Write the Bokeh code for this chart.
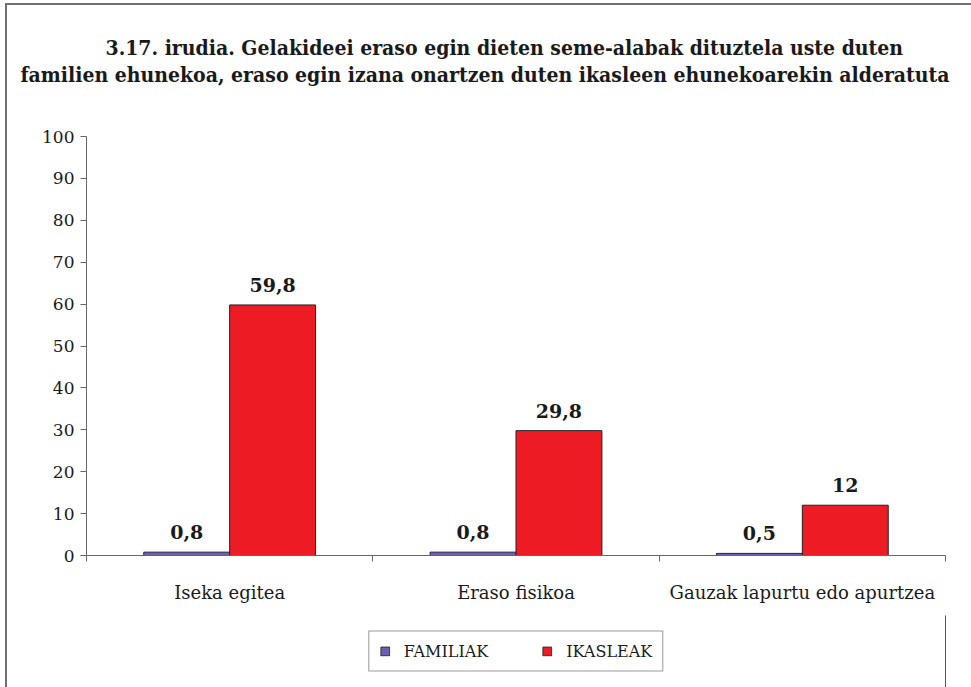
from bokeh.plotting import figure
from bokeh.layouts import column
from bokeh.models import (ColumnDataSource, LabelSet, Legend, LegendItem,
                          FixedTicker, Range1d, Title)
from bokeh.core.properties import value
from bokeh.embed import file_html
from bokeh.resources import INLINE

# --- data -----------------------------------------------------------------
categories = ["Iseka egitea", "Eraso fisikoa", "Gauzak lapurtu edo apurtzea"]
familiak = [0.8, 0.8, 0.5]
ikasleak = [59.8, 29.8, 12]
series_names = ["FAMILIAK", "IKASLEAK"]
y_ticks = [0, 10, 20, 30, 40, 50, 60, 70, 80, 90, 100]
title_lines = [
    "3.17. irudia. Gelakideei eraso egin dieten seme-alabak dituztela uste duten",
    "familien ehunekoa, eraso egin izana onartzen duten ikasleen ehunekoarekin alderatuta",
]

# --- styling --------------------------------------------------------------
FAM_COLOR = "#6F5FAF"
IKA_COLOR = "#ED1C24"
FAM_LINE = "#22224a"
IKA_LINE = "#222222"
AXIS_COLOR = "#666666"
TEXT_COLOR = "#1a1a1a"
SERIF = "DejaVu Serif"
BAR_W = 0.3


def fmt(v):
    return f"{v:g}".replace(".", ",")


n = len(categories)
centers = [i + 0.5 for i in range(n)]

src_fam = ColumnDataSource(dict(
    x=[c - BAR_W / 2 for c in centers], top=familiak,
    label=[fmt(v) for v in familiak]))
src_ika = ColumnDataSource(dict(
    x=[c + BAR_W / 2 for c in centers], top=ikasleak,
    label=[fmt(v) for v in ikasleak]))

# --- main bar chart -------------------------------------------------------
p = figure(width=964, height=610,
           x_range=Range1d(0, n), y_range=Range1d(0, 100),
           output_backend="svg", toolbar_location=None,
           min_border_left=79, min_border_right=26,
           min_border_top=131, min_border_bottom=60)
p.outline_line_color = None
p.xgrid.visible = False
p.ygrid.visible = False
p.background_fill_color = "white"
p.border_fill_color = "white"

p.vbar(x="x", top="top", width=BAR_W, bottom=0, source=src_fam,
       fill_color=FAM_COLOR, line_color=FAM_LINE, line_width=1)
p.vbar(x="x", top="top", width=BAR_W, bottom=0, source=src_ika,
       fill_color=IKA_COLOR, line_color=IKA_LINE, line_width=1)

for src in (src_fam, src_ika):
    p.add_layout(LabelSet(x="x", y="top", text="label", source=src,
                          text_align="center", text_baseline="bottom",
                          y_offset=13, text_font=value(SERIF),
                          text_font_style="bold",
                          text_font_size="19px", text_color=TEXT_COLOR))

# x axis: category names centred under each group, ticks on group boundaries
xa = p.xaxis[0]
xa.ticker = FixedTicker(ticks=centers, minor_ticks=list(range(n + 1)))
xa.major_label_overrides = {c: name for c, name in zip(centers, categories)}
xa.major_tick_out = 0
xa.major_tick_in = 0
xa.minor_tick_out = 6
xa.minor_tick_in = 0
xa.minor_tick_line_color = AXIS_COLOR
xa.axis_line_color = AXIS_COLOR
xa.major_label_standoff = 20
xa.major_label_text_font = SERIF
xa.major_label_text_font_size = "18px"
xa.major_label_text_color = TEXT_COLOR

ya = p.yaxis[0]
ya.ticker = FixedTicker(ticks=y_ticks)
ya.major_tick_out = 6
ya.major_tick_in = 0
ya.minor_tick_line_color = None
ya.major_tick_line_color = AXIS_COLOR
ya.axis_line_color = AXIS_COLOR
ya.major_label_standoff = 6
ya.major_label_text_font = SERIF
ya.major_label_text_font_size = "17px"
ya.major_label_text_color = TEXT_COLOR

# two-line title above the plot (added bottom line first, spacer nearest the plot)
p.add_layout(Title(text=" ", text_font_size="43px", standoff=0), "above")
for text, off in ((title_lines[1], -66), (title_lines[0], 19)):
    p.add_layout(Title(text=text, align="left", offset=off,
                       text_font="DejaVu Serif Condensed", text_font_style="bold",
                       text_font_size="21px", text_color=TEXT_COLOR,
                       standoff=0), "above")

# --- legend strip below the chart ----------------------------------------
leg = figure(width=964, height=72, x_range=Range1d(0, 1), y_range=Range1d(0, 1),
             output_backend="svg", toolbar_location=None,
             x_axis_location=None, y_axis_location=None,
             min_border_left=33, min_border_right=0,
             min_border_top=0, min_border_bottom=0)
leg.outline_line_color = None
leg.xgrid.visible = False
leg.ygrid.visible = False
leg.border_fill_color = "white"
# swatch renderers sit outside the visible range; only their legend glyphs show
g_fam = leg.vbar(x=[5], top=[1], width=0.1, fill_color=FAM_COLOR,
                 line_color="#333333")
g_ika = leg.vbar(x=[5], top=[1], width=0.1, fill_color=IKA_COLOR,
                 line_color="#333333")
legend = Legend(items=[LegendItem(label=series_names[0], renderers=[g_fam]),
                       LegendItem(label=series_names[1], renderers=[g_ika])],
                orientation="horizontal", location="center",
                glyph_width=11, glyph_height=11, label_standoff=14, spacing=53,
                padding=10, margin=0, border_line_color="#333333",
                border_line_width=1, background_fill_color="white",
                label_text_font=SERIF, label_text_font_size="16px",
                label_text_color=TEXT_COLOR)
leg.add_layout(legend, "center")

# chart box: top and left edges
layout = column(p, leg, spacing=0,
                styles={"border-left": "2px solid #707070",
                        "border-top": "2px solid #707070",
                        "margin-left": "5px", "margin-top": "3px"})

open("out.html", "w").write(file_html(layout, INLINE))
